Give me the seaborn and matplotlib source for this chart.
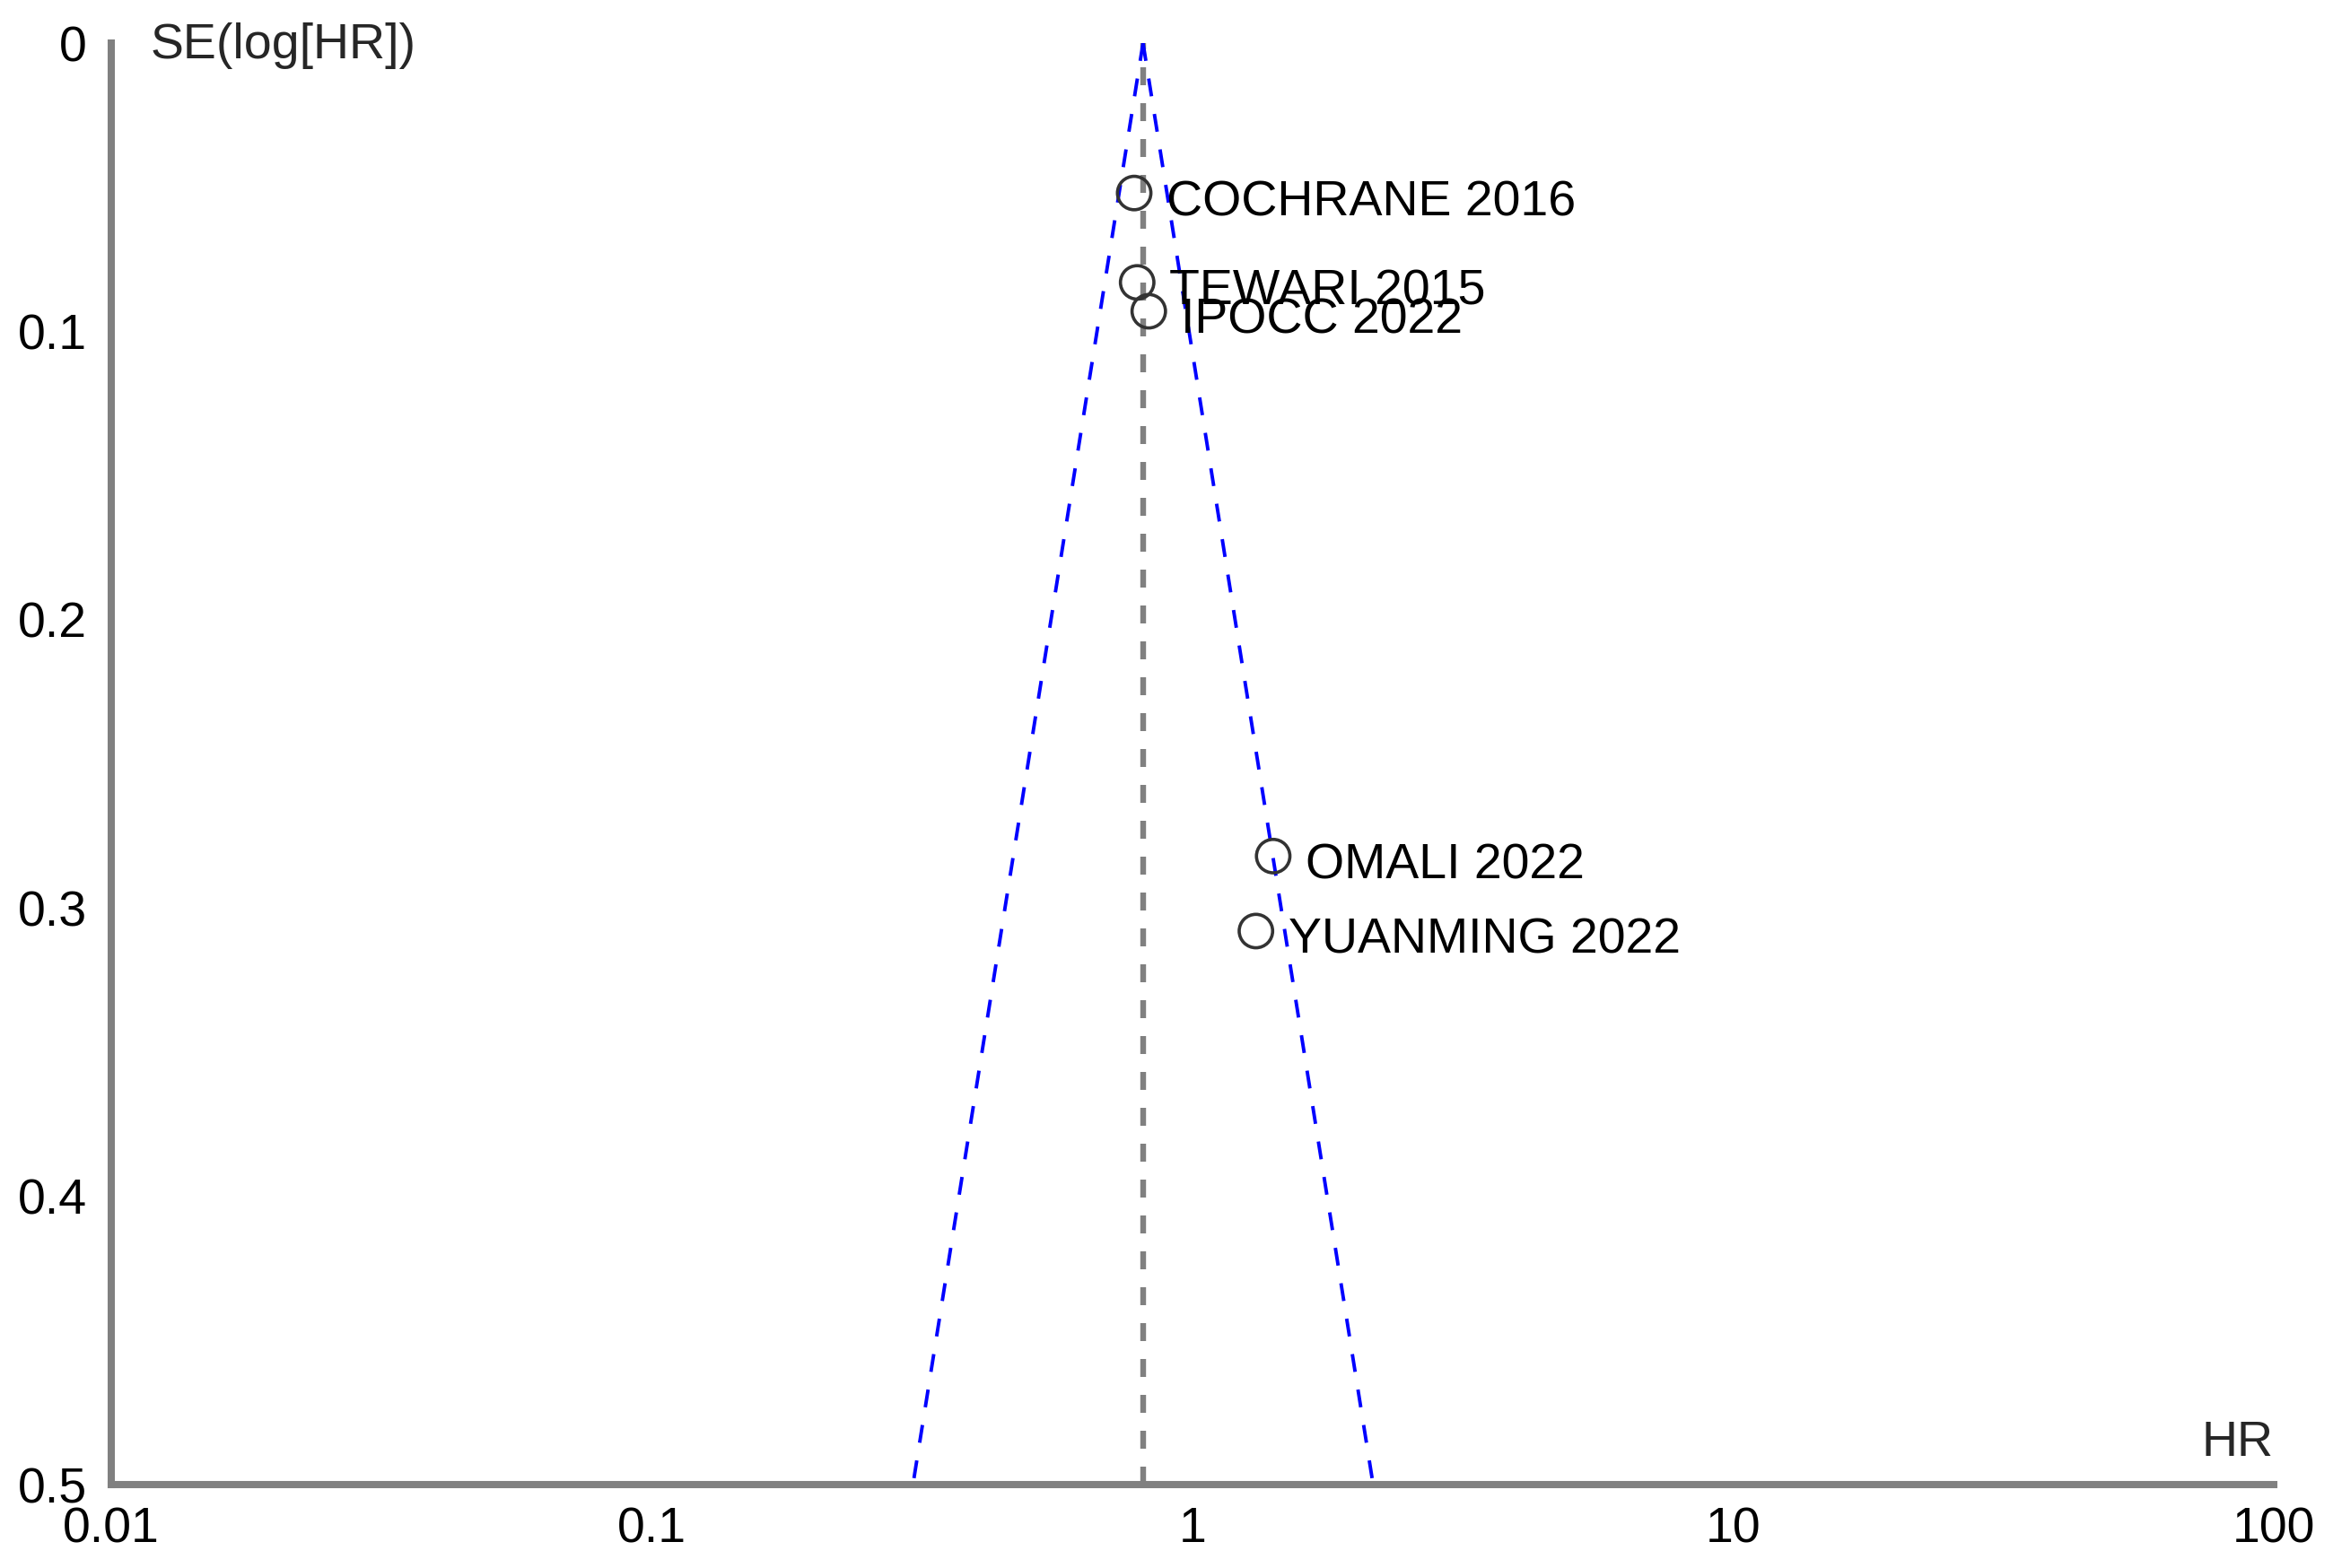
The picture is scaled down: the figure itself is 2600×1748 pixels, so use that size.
import numpy as np
import pandas as pd
import matplotlib
matplotlib.use("Agg")
import matplotlib.pyplot as plt
import seaborn as sns
from matplotlib.ticker import FixedLocator, FixedFormatter, NullLocator

# ---- data ----
studies = ["COCHRANE 2016", "TEWARI 2015", "IPOCC 2022", "OMALI 2022", "YUANMING 2022"]
hr = [0.78, 0.79, 0.83, 1.41, 1.31]
se = [0.052, 0.083, 0.093, 0.282, 0.308]
pooled_hr = 0.81
se_max = 0.5
x_ticks = [0.01, 0.1, 1, 10, 100]
x_tick_labels = ["0.01", "0.1", "1", "10", "100"]
y_ticks = [0, 0.1, 0.2, 0.3, 0.4, 0.5]
y_tick_labels = ["0", "0.1", "0.2", "0.3", "0.4", "0.5"]

sns.set_theme(style="white")
plt.rcParams['font.family'] = ['Liberation Sans', 'DejaVu Sans']
plt.rcParams['lines.scale_dashes'] = False

AX_GRAY = "#808080"
FS = 20

fig = plt.figure(figsize=(13, 8.74), dpi=200)
ax = fig.add_axes([0.0477, 0.0532, 0.9269, 0.9193])

# funnel (95% pseudo-confidence limits around pooled estimate)
se_line = [0.0, se_max]
funnel = pd.DataFrame({
    "se": se_line + se_line,
    "hr": [pooled_hr * np.exp(-1.96 * s) for s in se_line] + [pooled_hr * np.exp(1.96 * s) for s in se_line],
    "side": ["lower", "lower", "upper", "upper"],
})
for side, d in funnel.groupby("side"):
    sns.lineplot(data=d, x="hr", y="se", ax=ax, sort=False, estimator=None,
                 color="#0000FF", linewidth=1.4, dashes=False, zorder=2)
    ax.lines[-1].set_dashes([7.2, 7.2])

# pooled estimate line
ax.axvline(pooled_hr, ymin=0, ymax=1, color=AX_GRAY, linewidth=2.3, zorder=1.5)
ax.lines[-1].set_dashes([7.2, 7.2])

# study points
pts = pd.DataFrame({"study": studies, "hr": hr, "se": se})
sns.scatterplot(data=pts, x="hr", y="se", ax=ax, marker="o", s=180,
                facecolor="none", edgecolor="#333333", linewidth=1.3, zorder=3)
ax.collections[-1].set_facecolor("none")

for name, x, y in zip(studies, hr, se):
    ax.annotate(name, (x, y), xytext=(13, -9), textcoords="offset points",
                ha="left", va="baseline", fontsize=FS, color="black", zorder=4)

ax.set_xscale("log")
ax.set_xlim(0.01, 100)
ax.set_ylim(se_max, 0)
ax.xaxis.set_major_locator(FixedLocator(x_ticks))
ax.xaxis.set_major_formatter(FixedFormatter(x_tick_labels))
ax.xaxis.set_minor_locator(NullLocator())
ax.yaxis.set_major_locator(FixedLocator(y_ticks))
ax.yaxis.set_major_formatter(FixedFormatter(y_tick_labels))

ax.set_xlabel("")
ax.set_ylabel("")
for s in ["top", "right"]:
    ax.spines[s].set_visible(False)
for s in ["left", "bottom"]:
    ax.spines[s].set_color(AX_GRAY)
    ax.spines[s].set_linewidth(2.9)

ax.tick_params(axis="both", which="major", direction="inout", length=11.5, width=2.5,
               color=AX_GRAY, labelsize=FS, labelcolor="black")
ax.tick_params(axis="x", pad=3)
ax.tick_params(axis="y", pad=4)

ax.annotate("SE(log[HR])", xy=(0, 1), xycoords="axes fraction", xytext=(15.5, -6),
            textcoords="offset points", ha="left", va="baseline", fontsize=FS)
ax.annotate("HR", xy=(1, 0), xycoords="axes fraction", xytext=(0, 11.5),
            textcoords="offset points", ha="right", va="baseline", fontsize=FS)

fig.savefig("out.png", dpi=200, facecolor="white")
